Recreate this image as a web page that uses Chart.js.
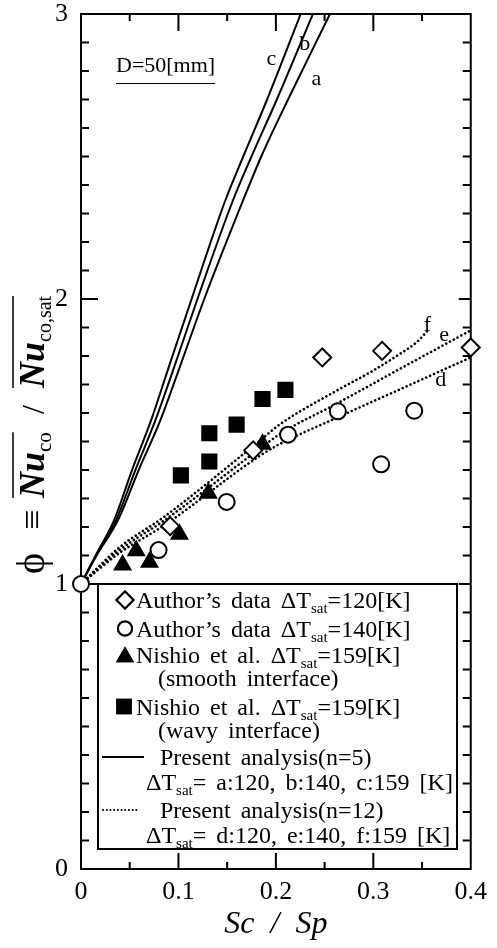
<!DOCTYPE html>
<html>
<head>
<meta charset="utf-8">
<script src="https://cdn.jsdelivr.net/npm/chart.js@4/dist/chart.umd.min.js"></script>
<style>
html, body { margin: 0; padding: 0; background: #fff; }
canvas { display: block; }
</style>
</head>
<body>
<canvas id="phiChart" width="497" height="948"></canvas>
<script>
const serif = '"Liberation Serif", "Times New Roman", serif';

// measured points (Sc/Sp, phi)
const author120X = [0.0915, 0.1767, 0.2476, 0.309, 0.4];
const author120Y = [1.203, 1.469, 1.795, 1.818, 1.830];
const author140X = [0, 0.0796, 0.1495, 0.2125, 0.2636, 0.308, 0.342];
const author140Y = [1.0, 1.119, 1.288, 1.524, 1.606, 1.420, 1.608];
const smoothX = [0.0427, 0.0567, 0.0703, 0.101, 0.1307, 0.1863];
const smoothY = [1.067, 1.117, 1.076, 1.175, 1.318, 1.490];
const wavyX = [0.1025, 0.1317, 0.1317, 0.1597, 0.1863, 0.2098];
const wavyY = [1.381, 1.430, 1.529, 1.559, 1.649, 1.681];

// present analysis n=5 (solid), all three share the same phi steps
const curveABCY = [1.0, 1.1, 1.224, 1.399, 1.573, 1.748, 2.0, 2.343, 2.5, 2.7, 3.0];
const curveAX = [0, 0.016, 0.038, 0.0591, 0.0813, 0.100, 0.1265, 0.166, 0.185, 0.2125, 0.2555];
const curveBX = [0, 0.0155, 0.036, 0.0557, 0.0762, 0.0943, 0.1195, 0.1556, 0.175, 0.201, 0.238];
const curveCX = [0, 0.015, 0.034, 0.0523, 0.0718, 0.0888, 0.1135, 0.1478, 0.1665, 0.191, 0.2255];

// present analysis n=12 (dotted)
const curveDX = [0, 0.04, 0.085, 0.1836, 0.204, 0.2636, 0.33, 0.4];
const curveDY = [1.0, 1.11, 1.205, 1.45, 1.491, 1.585, 1.687, 1.795];
const curveEX = [0, 0.04, 0.085, 0.1836, 0.204, 0.2636, 0.33, 0.4];
const curveEY = [1.0, 1.12, 1.222, 1.475, 1.526, 1.635, 1.76, 1.89];
const curveFX = [0, 0.04, 0.085, 0.1836, 0.204, 0.2653, 0.2994, 0.3267, 0.345, 0.356];
const curveFY = [1.0, 1.13, 1.235, 1.503, 1.56, 1.684, 1.748, 1.806, 1.85, 1.89];

// curve letters, anchored at the glyph baseline
const curveLabels = ['a', 'b', 'c', 'd', 'e', 'f'];
const curveLabelX = [0.2415, 0.2297, 0.1955, 0.3693, 0.3727, 0.3556];
const curveLabelY = [2.75, 2.873, 2.821, 1.696, 1.853, 1.888];

function pts(xs, ys) {
    return xs.map((x, i) => ({ x: x, y: ys[i] }));
}

function markerSet(label, xs, ys, style, radius, filled) {
    return {
        label: label,
        data: pts(xs, ys),
        showLine: false,
        pointStyle: style,
        pointRadius: radius,
        pointBorderWidth: 2,
        pointBorderColor: '#000',
        pointBackgroundColor: filled ? '#000' : '#fff',
        clip: false,
        order: 0
    };
}

function curveSet(label, xs, ys, dotted) {
    return {
        label: label,
        data: pts(xs, ys),
        showLine: true,
        pointRadius: 0,
        borderColor: '#000',
        borderWidth: dotted ? 2.6 : 2,
        borderDash: dotted ? [0.1, 4.2] : [],
        borderCapStyle: dotted ? 'round' : 'butt',
        cubicInterpolationMode: 'monotone',
        order: 1
    };
}

// draws text with "sat" style subscripts, parts = [[text, isSub], ...]
function drawRich(c, x, y, parts, size) {
    parts.forEach(p => {
        const sub = p[1];
        c.font = (sub ? Math.round(size * 0.64) : size) + 'px ' + serif;
        c.fillText(p[0], x, y + (sub ? 5 : 0));
        x += c.measureText(p[0]).width;
    });
    return x;
}

const framePlugin = {
    id: 'frame',
    beforeDraw(chart) {
        const c = chart.ctx;
        c.save();
        c.fillStyle = '#fff';
        c.fillRect(0, 0, chart.width, chart.height);
        c.restore();
    },
    beforeDatasetsDraw(chart) {
        const c = chart.ctx;
        const a = chart.chartArea;
        const xs = chart.scales.x, ys = chart.scales.y;
        c.save();
        c.strokeStyle = '#000';
        c.lineWidth = 2;
        c.strokeRect(a.left, a.top, a.right - a.left, a.bottom - a.top);
        c.beginPath();
        // inward ticks on the y sides, every 0.1
        for (let i = 1; i < 30; i++) {
            const py = ys.getPixelForValue(i / 10);
            const major = i % 10 === 0;
            c.moveTo(a.left, py); c.lineTo(a.left + (major ? 17 : 8), py);
            c.moveTo(a.right, py); c.lineTo(a.right - (major ? 12 : 8), py);
        }
        // inward ticks on the x sides, every 0.05
        for (let i = 1; i < 8; i++) {
            const px = xs.getPixelForValue(i * 0.05);
            const major = i % 2 === 0;
            c.moveTo(px, a.top); c.lineTo(px, a.top + (major ? 17 : 7));
            c.moveTo(px, a.bottom); c.lineTo(px, a.bottom - (major ? 16 : 7));
        }
        c.stroke();
        c.restore();
    },
    afterDatasetsDraw(chart) {
        const c = chart.ctx;
        const xs = chart.scales.x, ys = chart.scales.y;
        c.save();
        c.fillStyle = '#000';
        c.strokeStyle = '#000';
        c.textBaseline = 'alphabetic';

        // curve letters
        c.font = '22px ' + serif;
        c.textAlign = 'center';
        curveLabels.forEach((t, i) => {
            c.fillText(t, xs.getPixelForValue(curveLabelX[i]), ys.getPixelForValue(curveLabelY[i]));
        });

        // D=50[mm]
        c.textAlign = 'left';
        c.font = '22px ' + serif;
        c.fillText('D=50[mm]', 116, 72);
        const w = c.measureText('D=50[mm]').width;
        c.lineWidth = 1.2;
        c.beginPath();
        c.moveTo(116, 83.5); c.lineTo(116 + w, 83.5);
        c.stroke();

        // legend box
        const box = { left: 98, top: 584, right: 457, bottom: 849 };
        c.fillStyle = '#fff';
        c.fillRect(box.left, box.top, box.right - box.left, box.bottom - box.top);
        c.lineWidth = 2;
        c.strokeRect(box.left, box.top, box.right - box.left, box.bottom - box.top);
        c.fillStyle = '#000';

        const mk = (style, x, y, r, filled) => {
            Chart.helpers.drawPoint(c, {
                pointStyle: style, radius: r, borderWidth: 2, rotation: 0
            }, x, y);
            c.fillStyle = filled ? '#000' : '#fff';
            c.fill();
            c.stroke();
            c.fillStyle = '#000';
        };
        mk('rectRot', 125, 600, 8.5, false);
        mk('circle', 125, 628.5, 7, false);
        mk('triangle', 125, 657, 8.5, true);
        mk('rect', 124, 706.5, 9.5, true);

        c.lineWidth = 2;
        c.beginPath();
        c.moveTo(102, 757); c.lineTo(144, 757);
        c.stroke();
        c.save();
        c.lineWidth = 2;
        c.lineCap = 'round';
        c.setLineDash([0.1, 3.6]);
        c.beginPath();
        c.moveTo(103, 810); c.lineTo(138, 810);
        c.stroke();
        c.restore();

        c.wordSpacing = '4px';
        const fs = 24;
        drawRich(c, 136, 608, [['Author\u2019s data \u0394T'], ['sat', 1], ['=120[K]']], fs);
        drawRich(c, 136, 637, [['Author\u2019s data \u0394T'], ['sat', 1], ['=140[K]']], fs);
        drawRich(c, 136, 663, [['Nishio et al. \u0394T'], ['sat', 1], ['=159[K]']], fs);
        drawRich(c, 158, 686, [['(smooth interface)']], fs);
        drawRich(c, 136, 715, [['Nishio et al. \u0394T'], ['sat', 1], ['=159[K]']], fs);
        drawRich(c, 158, 738, [['(wavy interface)']], fs);
        drawRich(c, 160, 765, [['Present analysis(n=5)']], fs);
        drawRich(c, 146, 790, [['\u0394T'], ['sat', 1], ['= a:120, b:140, c:159 [K]']], fs);
        drawRich(c, 160, 818, [['Present analysis(n=12)']], fs);
        drawRich(c, 146, 843, [['\u0394T'], ['sat', 1], ['= d:120, e:140, f:159 [K]']], fs);
        c.wordSpacing = '0px';
        c.restore();
    },
    afterDraw(chart) {
        // rotated y title: phi = Nu_co / Nu_co,sat with overlines
        const c = chart.ctx;
        c.save();
        c.translate(44, 580);
        c.rotate(-Math.PI / 2);
        c.fillStyle = '#000';
        c.strokeStyle = '#000';
        c.textBaseline = 'alphabetic';
        c.textAlign = 'left';
        c.font = '40px ' + serif;
        c.fillText('\u03d5', 6, 0);
        c.font = '36px ' + serif;
        c.fillText('\u2261', 50, 0);
        const nu = (x0) => {
            c.font = 'italic bold 36px ' + serif;
            c.fillText('Nu', x0, 0);
            return x0 + c.measureText('Nu').width;
        };
        let x = nu(82);
        c.font = '21px ' + serif;
        c.fillText('co', x, 7);
        const end1 = x + c.measureText('co').width;
        c.font = '32px ' + serif;
        c.fillText('/', 166, 0);
        x = nu(192);
        c.font = '20px ' + serif;
        c.fillText('co,sat', x, 7);
        const end2 = x + c.measureText('co,sat').width;
        c.lineWidth = 1.5;
        c.beginPath();
        c.moveTo(82, -31); c.lineTo(end1, -31);
        c.moveTo(192, -31); c.lineTo(end2, -31);
        c.stroke();
        c.restore();
    }
};

const ctx = document.getElementById('phiChart').getContext('2d');
const phiChart = new Chart(ctx, {
    type: 'scatter',
    data: {
        datasets: [
            markerSet('Author 120K', author120X, author120Y, 'rectRot', 9, false),
            markerSet('Author 140K', author140X, author140Y, 'circle', 8, false),
            markerSet('Nishio smooth', smoothX, smoothY, 'triangle', 9, true),
            markerSet('Nishio wavy', wavyX, wavyY, 'rect', 10, true),
            curveSet('a', curveAX, curveABCY, false),
            curveSet('b', curveBX, curveABCY, false),
            curveSet('c', curveCX, curveABCY, false),
            curveSet('d', curveDX, curveDY, true),
            curveSet('e', curveEX, curveEY, true),
            curveSet('f', curveFX, curveFY, true)
        ]
    },
    options: {
        responsive: false,
        animation: false,
        layout: { autoPadding: false, padding: { top: 14, right: 25, bottom: 4, left: 0 } },
        plugins: {
            legend: { display: false },
            tooltip: { enabled: false }
        },
        scales: {
            x: {
                type: 'linear',
                min: 0,
                max: 0.4,
                afterFit(scale) { scale.height = 75; },
                ticks: {
                    stepSize: 0.1,
                    color: '#000',
                    padding: 10,
                    maxRotation: 0,
                    font: { family: serif, size: 26, lineHeight: 1 }
                },
                grid: { display: false, drawTicks: false },
                border: { display: false },
                title: {
                    display: true,
                    text: 'Sc  /  Sp',
                    color: '#000',
                    padding: 0,
                    font: { family: serif, size: 32, style: 'italic', lineHeight: 1.2 }
                }
            },
            y: {
                type: 'linear',
                min: 0,
                max: 3,
                afterFit(scale) { scale.width = 81; },
                ticks: {
                    stepSize: 1,
                    color: '#000',
                    padding: 13,
                    // tiny line height keeps the label box from pushing the plot top down
                    font: { family: serif, size: 26, lineHeight: 0.05 }
                },
                grid: { display: false, drawTicks: false },
                border: { display: false }
            }
        }
    },
    plugins: [framePlugin]
});
</script>
</body>
</html>
